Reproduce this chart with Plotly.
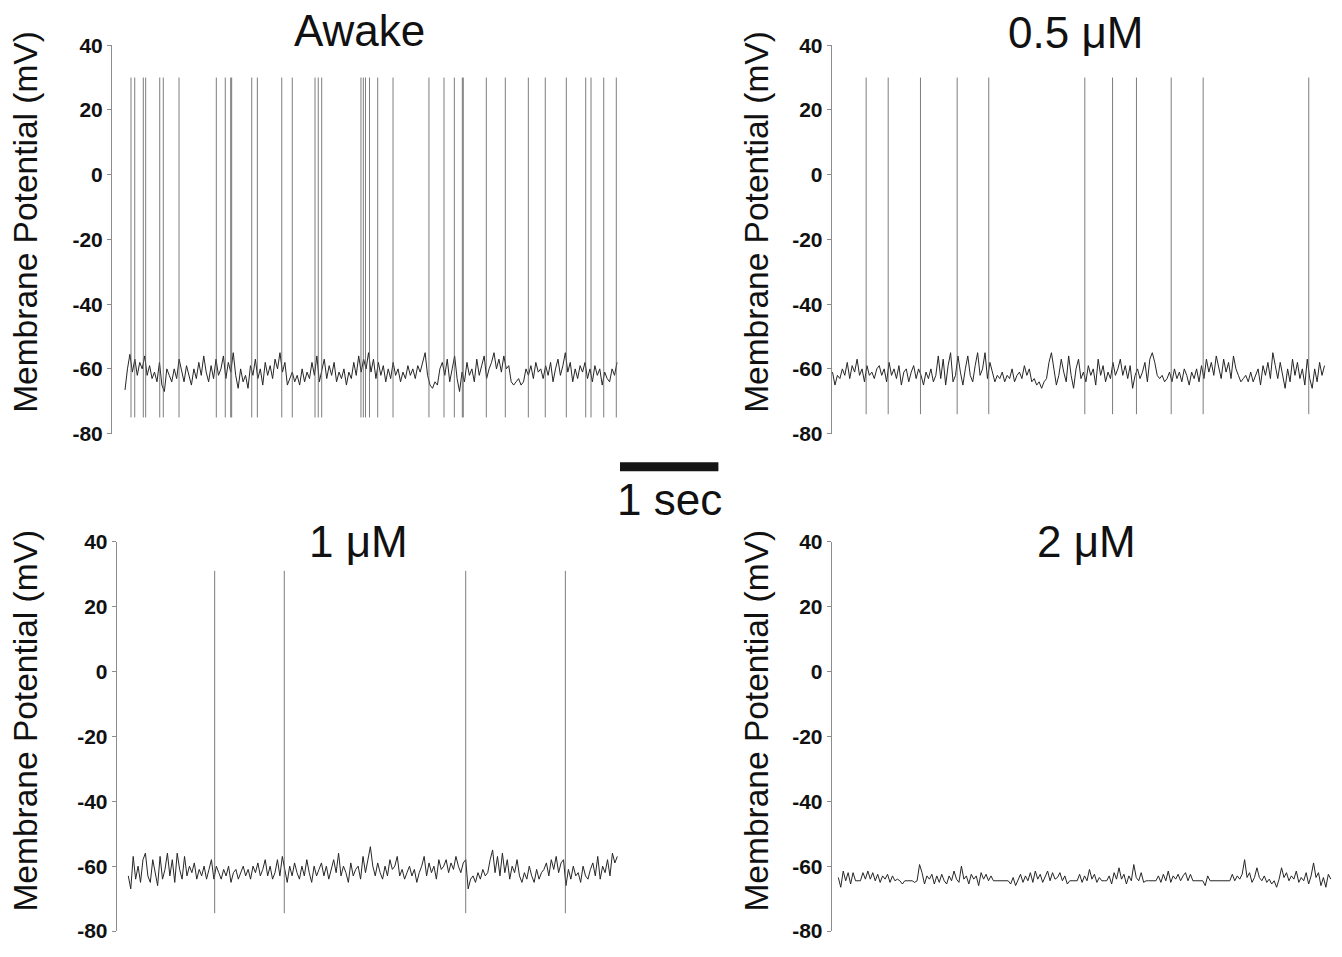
import plotly.graph_objects as go

W, H = 1342, 957
FONT = "Arial, Liberation Sans, sans-serif"

# ---------------------------------------------------------------
# Membrane potential traces (mV), sampled every 25 ms over 5 s
# ---------------------------------------------------------------
DT = 0.025

awake_vm = [
    -66.5, -60, -55.5, -61, -57, -62, -58, -60, -56, -62,
    -59, -63, -61, -64, -58, -65, -67, -60, -62, -64,
    -60, -63, -57, -61, -64, -59, -62, -65, -60, -63,
    -58, -62, -56, -61, -64, -59, -63, -57, -62, -60,
    -56, -63, -58, -61, -55, -62, -66, -60, -64, -62,
    -66, -59, -62, -57, -63, -60, -65, -58, -62, -59,
    -63, -57, -60, -55, -61, -58, -65, -63, -61, -64,
    -62, -65, -60, -64, -61, -63, -58, -62, -56, -64,
    -60, -57, -63, -59, -62, -58, -64, -61, -63, -60,
    -65, -61, -63, -58, -62, -56, -61, -57, -60, -55,
    -61, -57, -63, -58, -62, -59, -64, -60, -63, -58,
    -62, -60, -64, -61, -63, -59, -62, -60, -63, -59,
    -61, -58, -55, -62, -65, -66, -64, -65, -60, -58,
    -62, -57, -64, -60, -56, -63, -67, -61, -64, -58,
    -62, -60, -64, -57, -62, -59, -56, -63, -60, -58,
    -55, -60, -57, -61, -56, -60, -59, -64, -65, -64,
    -63, -65, -64, -60, -62, -59, -63, -58, -61, -60,
    -63, -59, -62, -58, -64, -60, -57, -62, -59, -55,
    -61, -58, -64, -60, -63, -59, -61, -58, -63, -60,
    -64, -59, -62, -60, -65, -61, -63, -64, -60, -62, -58,
]
awake_spikes = [
    0.061, 0.099, 0.186, 0.210, 0.353, 0.389, 0.549, 0.928, 1.019, 1.074,
    1.084, 1.288, 1.345, 1.593, 1.700, 1.931, 1.964, 1.999, 2.398, 2.422,
    2.444, 2.485, 2.568, 2.724, 3.089, 3.242, 3.347, 3.428, 3.438, 3.672,
    3.865, 4.099, 4.271, 4.485, 4.682, 4.736, 4.865, 4.993,
]

half_vm = [
    -61, -65, -62, -63, -60, -62, -58, -63, -59, -61,
    -57, -62, -60, -64, -59, -62, -61, -63, -60, -59,
    -62, -60, -64, -58, -62, -60, -63, -59, -65, -61,
    -60, -64, -61, -59, -63, -60, -62, -65, -61, -63,
    -60, -64, -62, -56, -63, -57, -65, -59, -55, -64,
    -62, -56, -61, -65, -60, -56, -62, -64, -59, -55,
    -62, -60, -55, -63, -58, -61, -64, -62, -63, -61,
    -64, -62, -63, -60, -64, -62, -61, -63, -59, -62,
    -60, -64, -63, -65, -64, -66, -64, -63, -58, -55,
    -60, -65, -62, -57, -61, -64, -56, -62, -66, -60,
    -57, -63, -61, -64, -59, -62, -60, -65, -57, -62,
    -59, -64, -61, -63, -58, -62, -60, -57, -62, -59,
    -63, -59, -66, -62, -60, -63, -61, -58, -64, -57,
    -55, -58, -62, -63, -62, -64, -63, -61, -64, -60,
    -63, -61, -64, -60, -62, -65, -61, -63, -60, -64,
    -59, -63, -57, -61, -58, -62, -56, -60, -63, -57,
    -61, -58, -63, -56, -60, -62, -64, -63, -62, -64,
    -61, -64, -62, -60, -65, -59, -62, -58, -63, -55,
    -59, -63, -58, -62, -66, -60, -64, -57, -62, -58,
    -63, -60, -65, -57, -63, -66, -60, -64, -58, -62, -59,
]
half_spikes = [
    0.342, 0.566, 0.894, 1.267, 1.588, 2.564, 2.846, 3.089, 3.442, 3.767, 4.840,
]

one_vm = [
    -63, -67, -57, -64, -60, -65, -58, -56, -63, -65,
    -58, -62, -66, -57, -64, -61, -56, -63, -58, -65,
    -56, -61, -64, -57, -63, -60, -62, -59, -64, -61,
    -63, -60, -64, -61, -58, -64, -60, -62, -64, -61,
    -63, -60, -65, -62, -61, -64, -62, -60, -63, -61,
    -64, -60, -62, -59, -63, -61, -58, -63, -60, -64,
    -62, -58, -63, -57, -61, -65, -60, -63, -59, -62,
    -64, -60, -63, -58, -62, -65, -60, -63, -61, -59,
    -63, -60, -64, -61, -58, -62, -56, -63, -60, -62,
    -65, -59, -63, -61, -60, -64, -57, -62, -58, -54,
    -60, -63, -59, -62, -64, -60, -63, -58, -61, -60,
    -57, -63, -61, -64, -62, -60, -63, -61, -65, -62,
    -60, -57, -63, -59, -62, -60, -64, -58, -61, -60,
    -58, -62, -59, -61, -57, -60, -62, -59, -58, -67,
    -64, -63, -65, -62, -64, -61, -63, -62, -58, -55,
    -62, -57, -63, -56, -62, -58, -64, -60, -62, -58,
    -63, -65, -62, -64, -60, -63, -65, -61, -64, -62,
    -61, -59, -63, -58, -61, -57, -62, -59, -58, -66,
    -61, -64, -60, -63, -62, -65, -60, -63, -64, -61,
    -59, -63, -57, -64, -60, -62, -58, -63, -56, -59, -57,
]
one_spikes = [0.883, 1.595, 3.450, 4.469]

two_vm = [
    -63.5, -66.5, -61.5, -64.5, -62, -65.5, -62, -64.5, -64.5, -64.5,
    -62, -64, -61.5, -64, -62, -64.5, -62.5, -65, -63, -64,
    -62.5, -65, -63, -64.5, -64, -64.5, -65.5, -64.5, -64.5, -64.5,
    -64.5, -65, -64.5, -59.5, -62, -65.5, -63, -64, -62.5, -65.5,
    -63, -65, -62.5, -64.5, -65.5, -63, -64.5, -61.5, -64, -65,
    -60, -64, -63, -65.5, -62.5, -64, -63, -66, -62, -64,
    -62.5, -64.5, -63, -64.5, -64.5, -64.5, -64.5, -64.5, -64.5, -64.5,
    -65.5, -63.5, -66, -64, -62.5, -65, -63, -64.5, -62, -65,
    -61.5, -64, -62.5, -65, -63, -61.5, -64.5, -62, -64, -63.5,
    -62, -64.5, -63, -65.5, -64.5, -64.5, -64.5, -64.5, -62.5, -65,
    -63, -64.5, -61, -64, -62.5, -65, -63.5, -64.5, -64.5, -64.5,
    -63, -65.5, -62, -64, -60.5, -64, -62.5, -65.5, -63, -64.5,
    -59.5, -63.5, -64.5, -62, -65, -64.5, -64.5, -64.5, -64.5, -64.5,
    -63, -65, -62.5, -64.5, -61.5, -65, -63, -64, -62.5, -64.5,
    -63, -62, -64.5, -62.5, -64.5, -64.5, -64.5, -64.5, -64.5, -66,
    -63, -64.5, -64.5, -64.5, -64.5, -64.5, -64.5, -64.5, -64.5, -64.5,
    -62.5, -64.5, -63, -64, -62.5, -58, -63.5, -62, -65, -63.5,
    -60.5, -63.5, -64.5, -63, -65, -64, -65.5, -64.5, -66.5, -64,
    -60.5, -63.5, -62, -64.5, -63, -64, -61.5, -65, -63.5, -64.5,
    -62, -65.5, -63, -59, -63.5, -62, -66, -63.5, -66.5, -62.5, -64,
]
two_spikes = []

titles = ["Awake", "0.5 \u03bcM", "1 \u03bcM", "2 \u03bcM"]
spike_peak = [30, 30, 31, 30]
spike_trough = [-75, -74, -74.5, -75]

Y_TICKS = [40, 20, 0, -20, -40, -60, -80]
Y_LABEL = "Membrane Potential (mV)"
SCALE_BAR_SEC = [0, 1]
SCALE_BAR_LABEL = "1 sec"

# ---------------------------------------------------------------
# Page geometry (pixels)
# ---------------------------------------------------------------
panel_geom = [
    # axis line x, t=0 x, px per second, y of 40 mV, y of -80 mV, title xy, y-label xy
    dict(ax=112.0, t0=125.0, pps=98.4, top=34.0, bot=432.0, title=(359, 19), ylab=(26, 215)),
    dict(ax=831.7, t0=832.5, pps=98.4, top=34.0, bot=432.0, title=(1075, 21), ylab=(757, 215)),
    dict(ax=116.7, t0=128.3, pps=97.8, top=542.7, bot=941.7, title=(358, 543), ylab=(26, 726)),
    dict(ax=831.7, t0=838.3, pps=98.5, top=542.7, bot=941.7, title=(1086, 543), ylab=(757, 726)),
]
DURATION = 5.0


def px_x(p):
    return p / W


def px_y(p):
    return 1 - p / H


def spike_segments(spikes, peak, trough):
    """Each spike is a vertical stroke from its peak to its trough."""
    xs, ys = [], []
    for t in spikes:
        xs += [t, t, None]
        ys += [peak, trough, None]
    return xs, ys


traces_vm = [awake_vm, half_vm, one_vm, two_vm]
traces_sp = [awake_spikes, half_spikes, one_spikes, two_spikes]

fig = go.Figure()
layout = dict(
    width=W, height=H,
    margin=dict(l=0, r=0, t=0, b=0),
    paper_bgcolor="white", plot_bgcolor="white",
    showlegend=False,
    font=dict(family=FONT, color="#111111"),
)
annotations = []

for k in range(4):
    g = panel_geom[k]
    n = "" if k == 0 else str(k + 1)
    vm = traces_vm[k]
    fig.add_trace(go.Scatter(
        x=[i * DT for i in range(len(vm))], y=vm, mode="lines",
        line=dict(color="#262626", width=1),
        xaxis="x" + n, yaxis="y" + n, hoverinfo="skip",
    ))
    if traces_sp[k]:
        sx, sy = spike_segments(traces_sp[k], spike_peak[k], spike_trough[k])
        fig.add_trace(go.Scatter(
            x=sx, y=sy, mode="lines",
            line=dict(color="#5c5c5c", width=0.8),
            xaxis="x" + n, yaxis="y" + n, hoverinfo="skip",
        ))
    x_end = g["t0"] + DURATION * g["pps"]
    layout["xaxis" + n] = dict(
        domain=[px_x(g["ax"]), px_x(x_end + 1)],
        range=[(g["ax"] - g["t0"]) / g["pps"], DURATION + 1 / g["pps"]],
        visible=False, anchor="y" + n,
    )
    layout["yaxis" + n] = dict(
        domain=[px_y(g["bot"]), px_y(g["top"])],
        range=[-80, 40],
        tickvals=Y_TICKS, ticktext=[str(v) for v in Y_TICKS],
        ticks="outside", ticklen=4, tickwidth=1, tickcolor="#8c8c8c",
        showline=True, linecolor="#8c8c8c", linewidth=1,
        showgrid=False, zeroline=False,
        tickfont=dict(family=FONT, size=21, color="#111111", weight="bold"),
        anchor="x" + n,
    )
    annotations.append(dict(
        text=titles[k], x=px_x(g["title"][0]), y=px_y(g["title"][1]),
        xref="paper", yref="paper", showarrow=False,
        xanchor="center", yanchor="middle",
        font=dict(family=FONT, size=44, color="#111111"),
    ))
    annotations.append(dict(
        text=Y_LABEL, x=px_x(g["ylab"][0]), y=px_y(g["ylab"][1]),
        xref="paper", yref="paper", showarrow=False, textangle=-90,
        xanchor="center", yanchor="middle",
        font=dict(family=FONT, size=33.5, color="#111111"),
    ))

# Time scale bar on its own axis, 1 s at the same px/s as the top traces
SB_PPS = 98.4
SB_LEFT, SB_RIGHT, SB_ZERO = 600.0, 740.0, 620.0
fig.add_trace(go.Scatter(
    x=SCALE_BAR_SEC, y=[0.5, 0.5], mode="lines",
    line=dict(color="#151515", width=9),
    xaxis="x5", yaxis="y5", hoverinfo="skip",
))
layout["xaxis5"] = dict(
    domain=[px_x(SB_LEFT), px_x(SB_RIGHT)],
    range=[(SB_LEFT - SB_ZERO) / SB_PPS, (SB_RIGHT - SB_ZERO) / SB_PPS],
    visible=False, anchor="y5",
)
layout["yaxis5"] = dict(
    domain=[px_y(476), px_y(456)], range=[0, 1], visible=False, anchor="x5",
)
annotations.append(dict(
    text=SCALE_BAR_LABEL, x=0.5, y=px_y(499), xref="x5", yref="paper",
    showarrow=False, xanchor="center", yanchor="middle",
    font=dict(family=FONT, size=44, color="#111111"),
))

layout["annotations"] = annotations
fig.update_layout(**layout)
fig.write_html("out.html")
